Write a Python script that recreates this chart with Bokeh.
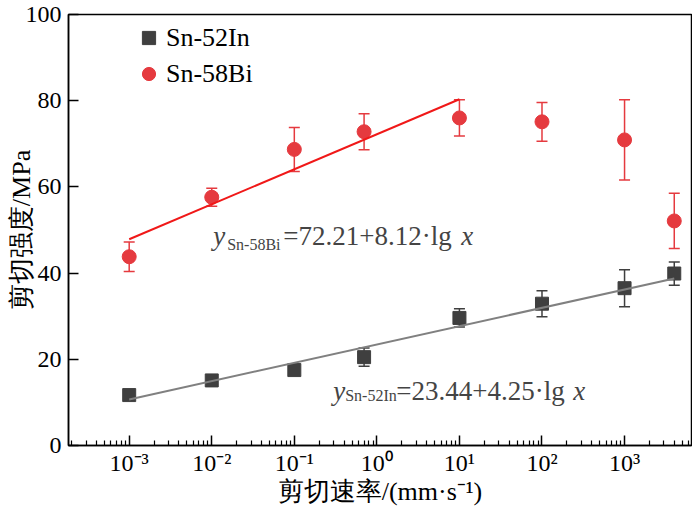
from bokeh.plotting import figure
from bokeh.models import (FixedTicker, Whisker, TeeHead, ColumnDataSource, Legend,
                          LegendItem, Label, Range1d)
from bokeh.embed import file_html
from bokeh.resources import INLINE
import math

# ---- data ----
rate = [1e-3, 1e-2, 1e-1, 0.7, 10, 100, 1000, 4000]
in_y = [11.7, 15.1, 17.5, 20.5, 29.6, 32.9, 36.5, 39.9]
in_err = [0.5, 0.6, 0.8, 2.1, 2.1, 3.0, 4.3, 2.7]
bi_y = [43.8, 57.6, 68.7, 72.8, 76.0, 75.1, 70.9, 52.1]
bi_err = [3.4, 2.1, 5.1, 4.2, 4.2, 4.5, 9.3, 6.4]

in_fit_coef = (23.44, 4.25)   # intercept, slope (lg x)
bi_fit_coef = (72.21, 8.12)
in_fit_x = [1e-3, 4000]
bi_fit_x = [1e-3, 10]

x_major = [1e-3, 1e-2, 1e-1, 1e0, 1e1, 1e2, 1e3]
x_labels = ["10⁻³", "10⁻²", "10⁻¹", "10⁰", "10¹", "10²", "10³"]
y_ticks = [0, 20, 40, 60, 80, 100]


def fit(coef, xs):
    return [coef[0] + coef[1] * math.log10(v) for v in xs]


SERIF = "Times New Roman"
RED = "#e53a3f"
RED_LINE = "#f01818"
DARK = "#3f3f3f"
GRAY_LINE = "#808080"

XMIN, XMAX = 1.84e-4, 6.47e3

p = figure(frame_width=623, frame_height=431, x_axis_type="log",
           x_range=Range1d(XMIN, XMAX), y_range=Range1d(0, 100),
           output_backend="svg", toolbar_location=None,
           min_border_left=68, min_border_right=1, min_border_top=14,
           min_border_bottom=40)

p.grid.visible = False
p.outline_line_color = "black"
p.outline_line_width = 1.5
p.background_fill_color = "white"
p.border_fill_color = "white"

minor = [m * 10.0 ** k for k in range(-4, 4) for m in range(2, 10)]
minor = [v for v in minor if XMIN < v < XMAX]
p.xaxis.ticker = FixedTicker(ticks=x_major, minor_ticks=minor)
p.xaxis.major_label_overrides = {v: s for v, s in zip(x_major, x_labels)}
p.yaxis.ticker = FixedTicker(ticks=y_ticks)
p.yaxis.minor_tick_line_color = None

for ax in p.axis:
    ax.major_tick_in = 10
    ax.major_tick_out = 0
    ax.minor_tick_in = 5
    ax.minor_tick_out = 0
    ax.axis_line_width = 1.5
    ax.major_tick_line_width = 1.5
    ax.minor_tick_line_width = 1.2
    ax.axis_line_color = "black"
    ax.major_label_text_font = SERIF
    ax.major_label_text_font_size = "24px"
    ax.major_label_text_color = "black"
    ax.axis_label_text_font = SERIF
    ax.axis_label_text_font_size = "26px"
    ax.axis_label_text_font_style = "normal"
    ax.axis_label_text_color = "black"

p.xaxis.major_label_standoff = 4
p.xaxis.axis_label_standoff = -2
p.yaxis.major_label_standoff = 7
p.yaxis.axis_label_standoff = -13
p.xaxis.axis_label = "剪切速率/(mm·s⁻¹)"
p.yaxis.axis_label = "剪切强度/MPa"

src_in = ColumnDataSource(dict(x=rate, y=in_y,
                               lo=[a - b for a, b in zip(in_y, in_err)],
                               hi=[a + b for a, b in zip(in_y, in_err)]))
src_bi = ColumnDataSource(dict(x=rate, y=bi_y,
                               lo=[a - b for a, b in zip(bi_y, bi_err)],
                               hi=[a + b for a, b in zip(bi_y, bi_err)]))

for src, col in ((src_in, DARK), (src_bi, RED)):
    w = Whisker(source=src, base="x", upper="hi", lower="lo",
                line_color=col, line_width=1.5,
                upper_head=TeeHead(size=11, line_color=col, line_width=1.5),
                lower_head=TeeHead(size=11, line_color=col, line_width=1.5))
    p.add_layout(w)

r_in = p.scatter("x", "y", source=src_in, marker="square", size=13,
                 fill_color=DARK, line_color=DARK)
r_bi = p.scatter("x", "y", source=src_bi, marker="circle", size=14,
                 fill_color=RED, line_color=RED)

p.line(in_fit_x, fit(in_fit_coef, in_fit_x), line_color=GRAY_LINE, line_width=2)
p.line(bi_fit_x, fit(bi_fit_coef, bi_fit_x), line_color=RED_LINE, line_width=2)

legend = Legend(items=[LegendItem(label="Sn-52In", renderers=[r_in]),
                       LegendItem(label="Sn-58Bi", renderers=[r_bi])],
                location=(64, 355), orientation="vertical",
                glyph_width=33, glyph_height=33, label_height=33,
                label_standoff=1, spacing=3, padding=0, margin=0,
                border_line_color=None, background_fill_alpha=0,
                label_text_font=SERIF, label_text_font_size="26px",
                label_text_color="black")
p.add_layout(legend)


# equation annotations (anchored at first rate value, offsets in px)
def eq(y_main, y_sub, dx_y, dx_sub, dx_main, dx_x, sub, main):
    p.add_layout(Label(x=rate[0], y=y_main, x_offset=dx_y, text="y",
                       text_font=SERIF, text_font_style="italic",
                       text_font_size="27px", text_baseline="alphabetic"))
    p.add_layout(Label(x=rate[0], y=y_sub, x_offset=dx_sub, text=sub,
                       text_font=SERIF, text_font_size="16px",
                       text_baseline="alphabetic"))
    p.add_layout(Label(x=rate[0], y=y_main, x_offset=dx_main, text=main,
                       text_font=SERIF, text_font_size="27px",
                       text_baseline="alphabetic"))
    p.add_layout(Label(x=rate[0], y=y_main, x_offset=dx_x, text="x",
                       text_font=SERIF, text_font_style="italic",
                       text_font_size="27px", text_baseline="alphabetic"))


eq(48.5, 46.65, 84, 98, 154, 332, "Sn-58Bi", "=72.21+8.12·lg")
eq(12.7, 11.55, 204, 216, 267, 444, "Sn-52In", "=23.44+4.25·lg")

open("out.html", "w").write(file_html(p, INLINE))
